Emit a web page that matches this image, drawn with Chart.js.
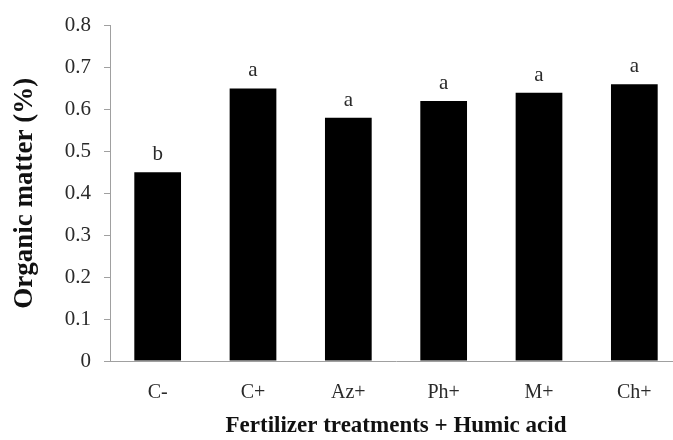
<!DOCTYPE html>
<html>
<head>
<meta charset="utf-8">
<script src="https://cdn.jsdelivr.net/npm/chart.js@4.4.1/dist/chart.umd.min.js"></script>
<style>
  html, body { margin: 0; padding: 0; background: #fff; overflow: hidden; }
  #wrap { width: 690px; height: 440px; }
</style>
</head>
<body>
<div id="wrap"><canvas id="chart" width="690" height="440"></canvas></div>
<script>
var categories = ["C-", "C+", "Az+", "Ph+", "M+", "Ch+"];
var organicMatter = [0.45, 0.65, 0.58, 0.62, 0.64, 0.66];
var letters = ["b", "a", "a", "a", "a", "a"];
var yMin = 0;
var yMax = 0.8;
var yStep = 0.1;

var serif = "'Liberation Serif', 'Times New Roman', serif";
var axisColor = "#a0a0a0";

var letterPlugin = {
  id: "letters",
  afterDatasetsDraw: function (chart) {
    var ctx = chart.ctx;
    var meta = chart.getDatasetMeta(0);
    ctx.save();
    ctx.fillStyle = "#2a2a2a";
    ctx.font = "21px " + serif;
    ctx.textAlign = "center";
    ctx.textBaseline = "alphabetic";
    for (var i = 0; i < meta.data.length; i++) {
      var bar = meta.data[i];
      ctx.fillText(letters[i], bar.x, bar.y - 12);
    }
    ctx.restore();
  }
};

new Chart(document.getElementById("chart"), {
  type: "bar",
  data: {
    labels: categories,
    datasets: [{
      data: organicMatter,
      backgroundColor: "#000",
      borderWidth: 0,
      categoryPercentage: 1,
      barPercentage: 0.49
    }]
  },
  options: {
    responsive: false,
    animation: false,
    layout: { padding: { top: 20, right: 8, bottom: 0, left: 0 } },
    plugins: { legend: { display: false }, tooltip: { enabled: false } },
    scales: {
      x: {
        grid: { display: false },
        border: { display: true, color: axisColor, width: 1 },
        ticks: { color: "#2a2a2a", font: { family: serif, size: 20 }, padding: 12 },
        title: {
          display: true,
          text: "Fertilizer treatments + Humic acid",
          color: "#111",
          font: { family: serif, size: 23, weight: "bold" },
          padding: { top: 0, bottom: 0 }
        },
        afterFit: function (scale) { scale.height = 79; }
      },
      y: {
        min: yMin,
        max: yMax,
        grid: { display: true, drawOnChartArea: false, drawTicks: true, tickLength: 6, color: axisColor },
        border: { display: true, color: axisColor, width: 1 },
        ticks: {
          stepSize: yStep,
          color: "#2a2a2a",
          font: { family: serif, size: 21 },
          padding: 13,
          callback: function (v) { return Math.round(v * 10) / 10 === 0 ? "0" : (Math.round(v * 10) / 10).toString(); }
        },
        title: {
          display: true,
          text: "Organic matter (%)",
          color: "#111",
          font: { family: serif, size: 27, weight: "bold" },
          padding: { top: 9, bottom: 0 }
        },
        afterFit: function (scale) { scale.width = 110; }
      }
    }
  },
  plugins: [letterPlugin]
});
</script>
</body>
</html>
